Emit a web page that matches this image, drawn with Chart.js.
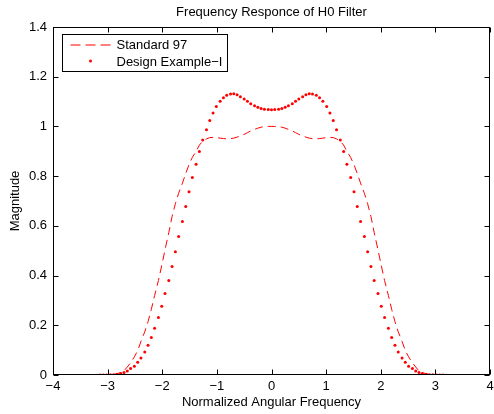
<!DOCTYPE html>
<html>
<head>
<meta charset="utf-8">
<script src="https://cdn.jsdelivr.net/npm/chart.js@4.4.0/dist/chart.umd.min.js"></script>
<style>
  html, body { margin: 0; padding: 0; background: #fff; }
  #chart { display: block; }
</style>
</head>
<body>
<canvas id="chart" width="494" height="414"></canvas>
<script>
// Sample points along the normalized angular frequency axis (-pi..pi)
const freq = [
  -3.14, -3.08, -3.02, -2.95, -2.89, -2.83, -2.76, -2.70, -2.64, -2.58,
  -2.51, -2.45, -2.39, -2.32, -2.26, -2.20, -2.14, -2.07, -2.01, -1.95,
  -1.88, -1.82, -1.76, -1.70, -1.63, -1.57, -1.51, -1.45, -1.38, -1.32,
  -1.26, -1.19, -1.13, -1.07, -1.01, -0.94, -0.88, -0.82, -0.75, -0.69,
  -0.63, -0.57, -0.50, -0.44, -0.38, -0.31, -0.25, -0.19, -0.13, -0.06,
  0,
  0.06, 0.13, 0.19, 0.25, 0.31, 0.38, 0.44, 0.50, 0.57, 0.63,
  0.69, 0.75, 0.82, 0.88, 0.94, 1.01, 1.07, 1.13, 1.19, 1.26,
  1.32, 1.38, 1.45, 1.51, 1.57, 1.63, 1.70, 1.76, 1.82, 1.88,
  1.95, 2.01, 2.07, 2.14, 2.20, 2.26, 2.32, 2.39, 2.45, 2.51,
  2.58, 2.64, 2.70, 2.76, 2.83, 2.89, 2.95, 3.02, 3.08, 3.14
];

// Standard 97 (dashed)
const standard97 = [
  0, 0, 0, 0.001, 0.002, 0.005, 0.010, 0.017, 0.032, 0.049,
  0.073, 0.098, 0.135, 0.174, 0.215, 0.264, 0.320, 0.380, 0.440, 0.503,
  0.573, 0.638, 0.689, 0.731, 0.772, 0.811, 0.846, 0.875, 0.900, 0.925,
  0.940, 0.950, 0.955, 0.956, 0.955, 0.953, 0.951, 0.950, 0.951, 0.953,
  0.957, 0.962, 0.968, 0.975, 0.982, 0.988, 0.993, 0.997, 0.999, 1.000,
  1.000,
  1.000, 0.999, 0.997, 0.993, 0.988, 0.982, 0.975, 0.968, 0.962, 0.957,
  0.953, 0.951, 0.950, 0.951, 0.953, 0.955, 0.956, 0.955, 0.950, 0.940,
  0.925, 0.900, 0.875, 0.846, 0.811, 0.772, 0.731, 0.689, 0.638, 0.573,
  0.503, 0.440, 0.380, 0.320, 0.264, 0.215, 0.174, 0.135, 0.098, 0.073,
  0.049, 0.032, 0.017, 0.010, 0.005, 0.002, 0.001, 0, 0, 0
];

// Design Example-I (dotted)
const designExample = [
  0, 0, 0, 0.001, 0.001, 0.003, 0.006, 0.010, 0.016, 0.026,
  0.035, 0.051, 0.068, 0.093, 0.120, 0.151, 0.188, 0.231, 0.277, 0.328,
  0.380, 0.436, 0.496, 0.557, 0.618, 0.678, 0.737, 0.795, 0.848, 0.899,
  0.945, 0.987, 1.024, 1.054, 1.080, 1.101, 1.115, 1.125, 1.130, 1.131,
  1.127, 1.119, 1.110, 1.101, 1.091, 1.083, 1.077, 1.072, 1.069, 1.068,
  1.067,
  1.068, 1.069, 1.072, 1.077, 1.083, 1.091, 1.101, 1.110, 1.119, 1.127,
  1.131, 1.130, 1.125, 1.115, 1.101, 1.080, 1.054, 1.024, 0.987, 0.945,
  0.899, 0.848, 0.795, 0.737, 0.678, 0.618, 0.557, 0.496, 0.436, 0.380,
  0.328, 0.277, 0.231, 0.188, 0.151, 0.120, 0.093, 0.068, 0.051, 0.035,
  0.026, 0.016, 0.010, 0.006, 0.003, 0.001, 0.001, 0, 0, 0
];

const xTicks = [-4, -3, -2, -1, 0, 1, 2, 3, 4];
const yTicks = [0, 0.2, 0.4, 0.6, 0.8, 1, 1.2, 1.4];

const seriesNames = ['Standard 97', 'Design Example\u2212I'];
const chartTitle = 'Frequency Responce of H0 Filter';
const xTitle = 'Normalized Angular Frequency';
const yTitle = 'Magnitude';

const FONT = 'Liberation Sans, Arial, Helvetica, sans-serif';
Chart.defaults.font.family = FONT;
Chart.defaults.font.size = 13;
Chart.defaults.color = '#000';

function fmt(v) {
  const s = String(parseFloat(v.toFixed(1)));
  return s.replace('-', '\u2212');
}

// box, inward ticks, title and legend drawn matlab-style
const matlabFrame = {
  id: 'matlabFrame',
  afterDraw(chart) {
    const ctx = chart.ctx;
    const a = chart.chartArea;
    const xs = chart.scales.x;
    const ys = chart.scales.y;
    const L = Math.round(a.left) + 0.5, R = Math.round(a.right) - 0.5;
    const T = Math.round(a.top) + 0.5, B = Math.round(a.bottom) - 0.5;
    const tick = 5;

    ctx.save();
    ctx.strokeStyle = '#000';
    ctx.lineWidth = 1;
    ctx.strokeRect(L, T, R - L, B - T);

    ctx.beginPath();
    xTicks.forEach(v => {
      const px = Math.round(xs.getPixelForValue(v)) + 0.5;
      ctx.moveTo(px, B); ctx.lineTo(px, B - tick);
      ctx.moveTo(px, T); ctx.lineTo(px, T + tick);
    });
    yTicks.forEach(v => {
      const py = Math.round(ys.getPixelForValue(v)) + 0.5;
      ctx.moveTo(L, py); ctx.lineTo(L + tick, py);
      ctx.moveTo(R, py); ctx.lineTo(R - tick, py);
    });
    ctx.stroke();

    // title over the axes
    ctx.fillStyle = '#000';
    ctx.font = '13px ' + FONT;
    ctx.textAlign = 'center';
    ctx.textBaseline = 'middle';
    ctx.fillText(chartTitle, (a.left + a.right) / 2, 12.5);

    // legend box
    const bx = L + 9, by = T + 7, bw = 165, bh = 37;
    ctx.fillStyle = '#fff';
    ctx.fillRect(bx, by, bw, bh);
    ctx.strokeRect(bx, by, bw, bh);

    ctx.strokeStyle = 'rgb(255,0,0)';
    ctx.setLineDash([10, 5]);
    ctx.beginPath();
    ctx.moveTo(bx + 8, by + 10.5);
    ctx.lineTo(bx + 50, by + 10.5);
    ctx.stroke();
    ctx.setLineDash([]);

    ctx.fillStyle = 'rgb(255,0,0)';
    ctx.beginPath();
    ctx.arc(bx + 28, by + 26.5, 1.5, 0, Math.PI * 2);
    ctx.fill();

    ctx.fillStyle = '#000';
    ctx.textAlign = 'left';
    ctx.fillText(seriesNames[0], bx + 54, by + 11);
    ctx.fillText(seriesNames[1], bx + 54, by + 28);
    ctx.restore();
  }
};

const ctx = document.getElementById('chart').getContext('2d');
new Chart(ctx, {
  type: 'line',
  data: {
    datasets: [
      {
        label: seriesNames[0],
        data: freq.map((f, i) => ({ x: f, y: standard97[i] })),
        borderColor: 'rgb(255,0,0)',
        borderWidth: 1,
        borderDash: [8, 5],
        pointRadius: 0,
        tension: 0,
        fill: false
      },
      {
        label: seriesNames[1],
        data: freq.map((f, i) => ({ x: f, y: designExample[i] })),
        showLine: false,
        pointRadius: 1.5,
        pointBorderWidth: 0,
        pointBackgroundColor: 'rgb(255,0,0)',
        pointBorderColor: 'rgb(255,0,0)'
      }
    ]
  },
  options: {
    responsive: false,
    animation: false,
    devicePixelRatio: 1,
    layout: { padding: { top: 27, right: 2, left: 0, bottom: 0 } },
    plugins: {
      legend: { display: false },
      title: { display: false },
      tooltip: { enabled: false }
    },
    scales: {
      x: {
        type: 'linear',
        min: -4,
        max: 4,
        afterBuildTicks: s => { s.ticks = xTicks.map(v => ({ value: v })); },
        ticks: { callback: v => fmt(v), padding: 4, maxRotation: 0, autoSkip: false },
        grid: { display: false, drawTicks: false },
        border: { display: false },
        title: { display: true, text: xTitle, padding: { top: 0, bottom: 4 } },
        afterFit: s => { s.height = 39; s.paddingLeft = 0; s.paddingRight = 0; }
      },
      y: {
        type: 'linear',
        min: 0,
        max: 1.4,
        afterBuildTicks: s => { s.ticks = yTicks.map(v => ({ value: v })); },
        ticks: { callback: v => fmt(v), padding: 6, autoSkip: false },
        grid: { display: false, drawTicks: false },
        border: { display: false },
        title: { display: true, text: yTitle, padding: { top: 8, bottom: 0 } },
        afterFit: s => { s.width = 53; s.paddingTop = 0; s.paddingBottom = 0; }
      }
    }
  },
  plugins: [matlabFrame]
});
</script>
</body>
</html>
